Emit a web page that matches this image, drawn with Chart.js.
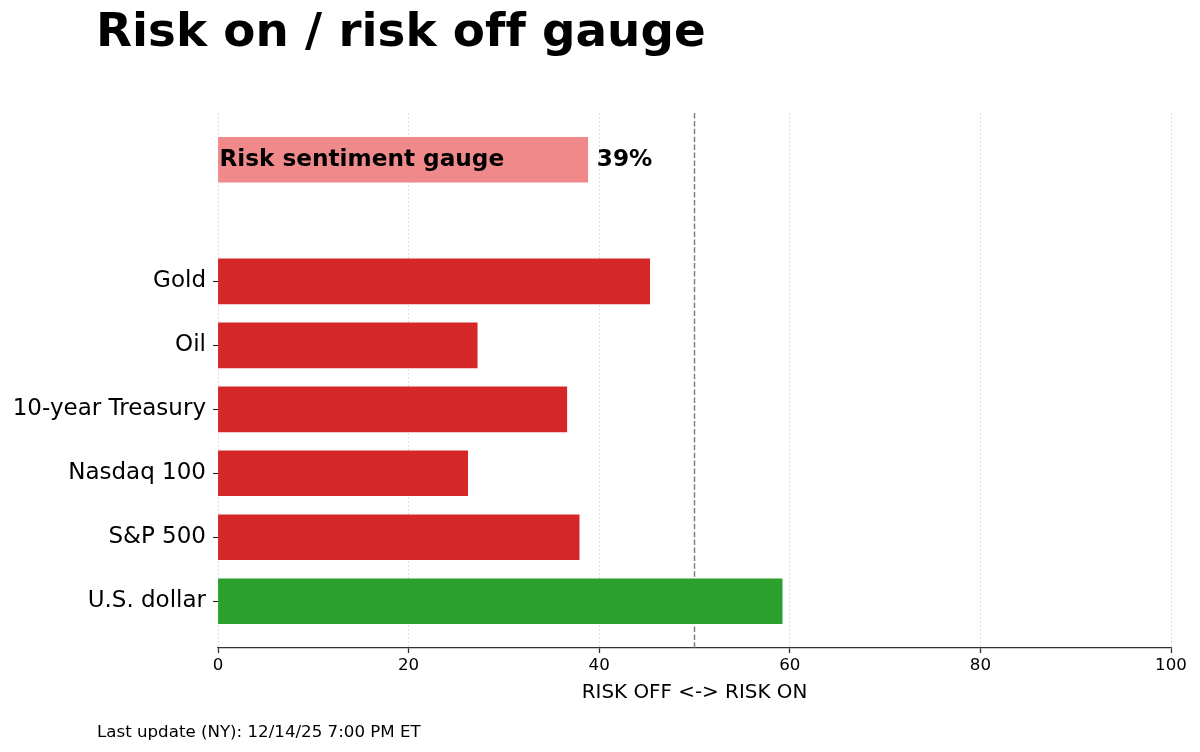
<!DOCTYPE html>
<html>
<head>
<meta charset="utf-8">
<title>Risk on / risk off gauge</title>
<script src="https://cdn.jsdelivr.net/npm/chart.js@4.4.1/dist/chart.umd.min.js"></script>
<style>
  html, body { margin: 0; padding: 0; background: #fff; }
  #wrap { position: relative; width: 1200px; height: 752px; font-family: 'DejaVu Sans', sans-serif; color: #000; font-variant-ligatures: none; }
  #title { position: absolute; left: 96px; top: 7px; font-size: 46.8px; line-height: 46.8px; font-weight: bold; white-space: nowrap; }
  #footer { position: absolute; left: 97px; top: 724px; font-size: 16.67px; line-height: 16.67px; white-space: nowrap; }
  canvas { position: absolute; left: 0; top: 0; }
</style>
</head>
<body>
<div id="wrap">
  <canvas id="gauge" width="1200" height="752"></canvas>
  <div id="title">Risk on / risk off gauge</div>
  <div id="footer">Last update (NY): 12/14/25 7:00 PM ET</div>
</div>
<script>
// values (0 = full risk off, 100 = full risk on)
const assets = ['U.S. dollar', 'S&P 500', 'Nasdaq 100', '10-year Treasury', 'Oil', 'Gold'];
const scores = [59.2, 37.9, 26.2, 36.6, 27.2, 45.3];
const gaugeLabel = 'Risk sentiment gauge';
const gaugeScore = 38.8;
const xTicks = [0, 20, 40, 60, 80, 100];
const xTitle = 'RISK OFF <-> RISK ON';

const NEUTRAL = 50;
const GAUGE_ROW = 6.9;      // gauge sits above the asset rows, with a gap
const BAR_HALF = 0.35;
const RED = '#d62728', GREEN = '#2ca02c';
const LIGHT_RED = '#f08a8a', LIGHT_GREEN = '#90d890';

// matplotlib-like 5% margin around the bars
const yLo = -BAR_HALF, yHi = GAUGE_ROW + BAR_HALF;
const yPad = (yHi - yLo) * 0.05;

const midline = {
    id: 'midline',
    beforeDatasetsDraw(chart) {
        const { ctx, chartArea, scales } = chart;
        const x = scales.x.getPixelForValue(NEUTRAL);
        ctx.save();
        ctx.strokeStyle = '#808080';
        ctx.lineWidth = 1.5;
        ctx.setLineDash([5.5, 2.4]);
        ctx.beginPath();
        ctx.moveTo(x, chartArea.top);
        ctx.lineTo(x, chartArea.bottom);
        ctx.stroke();
        ctx.restore();
    }
};

const gaugeText = {
    id: 'gaugeText',
    afterDatasetsDraw(chart) {
        const bar = chart.getDatasetMeta(1).data[0];
        if (!bar) return;
        const ctx = chart.ctx;
        ctx.save();
        ctx.font = 'bold 23.2px "DejaVu Sans"';
        ctx.fillStyle = '#000';
        ctx.textBaseline = 'middle';
        ctx.textAlign = 'left';
        ctx.fillText(gaugeLabel, bar.base + 1, bar.y);
        ctx.fillText(Math.round(gaugeScore) + '%', bar.x + 9, bar.y);
        ctx.restore();
    }
};

const ctx = document.getElementById('gauge').getContext('2d');
new Chart(ctx, {
    type: 'bar',
    data: {
        datasets: [
            {
                label: 'Assets',
                data: assets.map((a, i) => ({ x: scores[i], y: i })),
                backgroundColor: c => (c.raw && c.raw.x >= NEUTRAL) ? GREEN : RED
            },
            {
                label: gaugeLabel,
                data: [{ x: gaugeScore, y: GAUGE_ROW }],
                backgroundColor: c => (c.raw && c.raw.x >= NEUTRAL) ? LIGHT_GREEN : LIGHT_RED
            }
        ]
    },
    options: {
        indexAxis: 'y',
        responsive: false,
        animation: false,
        devicePixelRatio: 1,
        datasets: {
            bar: { barThickness: 45, grouped: false, borderWidth: 0 }
        },
        layout: { padding: { left: 0, right: 29, top: 113, bottom: 47 } },
        plugins: {
            legend: { display: false },
            tooltip: { enabled: false }
        },
        scales: {
            x: {
                type: 'linear',
                position: 'bottom',
                min: 0,
                max: 100,
                z: 1,
                afterBuildTicks: s => { s.ticks = xTicks.map(v => ({ value: v })); },
                afterFit: s => { s.height = 57; },
                ticks: {
                    color: '#000',
                    font: { family: 'DejaVu Sans', size: 16.67 },
                    padding: 3
                },
                grid: {
                    color: 'rgba(0,0,0,0.22)',
                    lineWidth: 0.8,
                    tickColor: '#333',
                    tickLength: 5,
                    tickWidth: 1.3
                },
                border: { color: '#333', width: 1.3, dash: [1.5, 2.5] },
                title: {
                    display: true,
                    text: xTitle,
                    color: '#000',
                    font: { family: 'DejaVu Sans', size: 19.9 },
                    padding: 0
                }
            },
            y: {
                type: 'linear',
                offset: false,
                min: yLo - yPad,
                max: yHi + yPad,
                afterBuildTicks: s => { s.ticks = assets.map((a, i) => ({ value: i })); },
                afterFit: s => { s.width = 218; },
                ticks: {
                    autoSkip: false,
                    color: '#000',
                    font: { family: 'DejaVu Sans', size: 23 },
                    padding: 7,
                    callback: v => assets[v]
                },
                grid: {
                    offset: false,
                    drawOnChartArea: false,
                    tickLength: 5,
                    tickColor: '#222',
                    tickWidth: 1.1
                },
                border: { display: false }
            }
        }
    },
    plugins: [midline, gaugeText]
});
</script>
</body>
</html>
